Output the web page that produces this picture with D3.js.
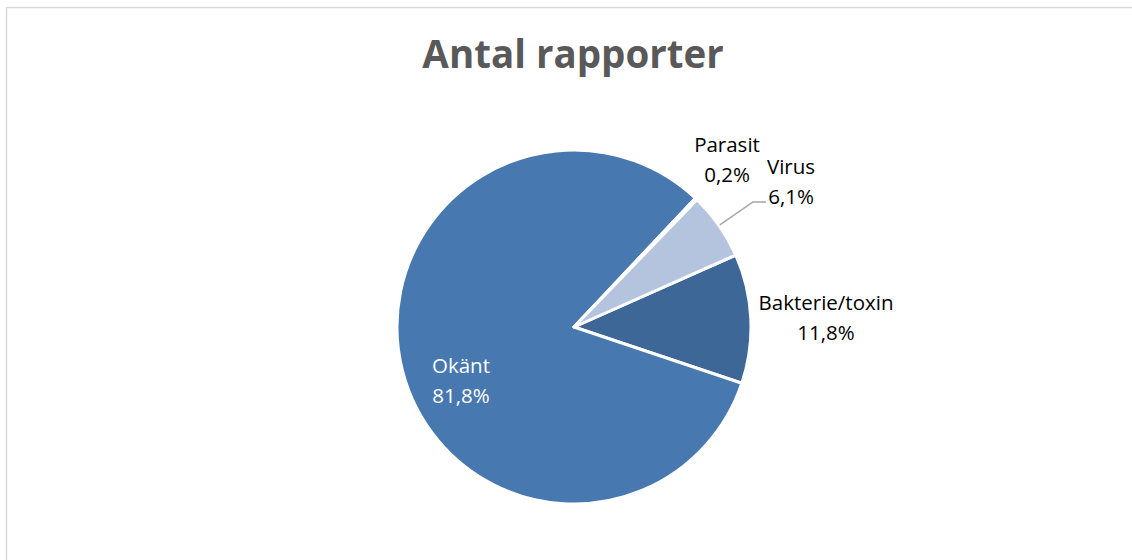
<!DOCTYPE html>
<html>
<head>
<meta charset="utf-8">
<script src="https://cdn.jsdelivr.net/npm/d3@7"></script>
<style>
  body { margin: 0; background: #fff; }
  svg text { font-family: "Open Sans", Lato, sans-serif; }
</style>
</head>
<body>
<div id="app"></div>
<script>
const categories = ["Bakterie/toxin", "Okänt", "Parasit", "Virus"]
const shares = [11.8, 81.8, 0.2, 6.1]
const colors = ["#3d6797", "#4878b0", "#7f9ccb", "#b4c4de"]

const make_plot = (root_node) => {
   let width = 1132
   let height = 560
   let cx = 574
   let cy = 327
   let radius = 177
   let first_angle = 66 * Math.PI / 180

   let root = d3.select(root_node)
      .append("svg")
      .attr("width", width)
      .attr("height", height)

   root.append("rect")
      .attr("x", 6.5)
      .attr("y", 7.5)
      .attr("width", width)
      .attr("height", height)
      .attr("fill", "#fff")
      .attr("stroke", "#d9d9d9")
      .attr("stroke-width", 1.5)

   root.append("text")
      .attr("x", 573)
      .attr("y", 68)
      .attr("text-anchor", "middle")
      .attr("font-size", "38.5px")
      .attr("font-weight", "bold")
      .attr("fill", "#595959")
      .text("Antal rapporter")

   let data = categories.map((c, i) => ({name: c, value: shares[i], color: colors[i]}))

   let pie = d3.pie()
      .sort(null)
      .value(d => d.value)
      .startAngle(first_angle)
      .endAngle(first_angle + 2 * Math.PI)

   let arc = d3.arc().innerRadius(0).outerRadius(radius)
   let arcs = pie(data)

   let plot = root.append("g")
      .attr("transform", `translate(${cx},${cy})`)

   plot.selectAll("path")
      .data(arcs)
      .join("path")
      .attr("d", arc)
      .attr("fill", d => d.data.color)
      .attr("stroke", "#fff")
      .attr("stroke-width", 3)
      .attr("stroke-linejoin", "round")

   // label spots, relative to the pie centre
   let label_pos = {
      "Bakterie/toxin": [252, -17, "#000"],
      "Okänt": [-113, 46, "#fff"],
      "Parasit": [153, -175, "#000"],
      "Virus": [217, -153, "#000"]
   }
   let fmt = v => d3.format(".1f")(v).replace(".", ",") + "%"

   let labels = plot.append("g")
      .selectAll("text")
      .data(arcs)
      .join("text")
      .attr("text-anchor", "middle")
      .attr("font-size", "20.5px")
      .attr("fill", d => label_pos[d.data.name][2])
      .attr("transform", d => `translate(${label_pos[d.data.name][0]},${label_pos[d.data.name][1]})`)

   labels.append("tspan")
      .attr("x", 0)
      .attr("dy", 0)
      .text(d => d.data.name)
   labels.append("tspan")
      .attr("x", 0)
      .attr("dy", 30)
      .text(d => fmt(d.data.value))

   // leader line for the Virus label
   let virus = arcs.find(d => d.data.name == "Virus")
   let mid = (virus.startAngle + virus.endAngle) / 2
   let p0 = [Math.sin(mid) * (radius + 1), -Math.cos(mid) * (radius + 1)]
   plot.append("polyline")
      .attr("points", [p0, [179, -125], [192, -125]].map(p => p.join(",")).join(" "))
      .attr("fill", "none")
      .attr("stroke", "#a6a6a6")
      .attr("stroke-width", 1.5)
}

make_plot("#app")
</script>
</body>
</html>
